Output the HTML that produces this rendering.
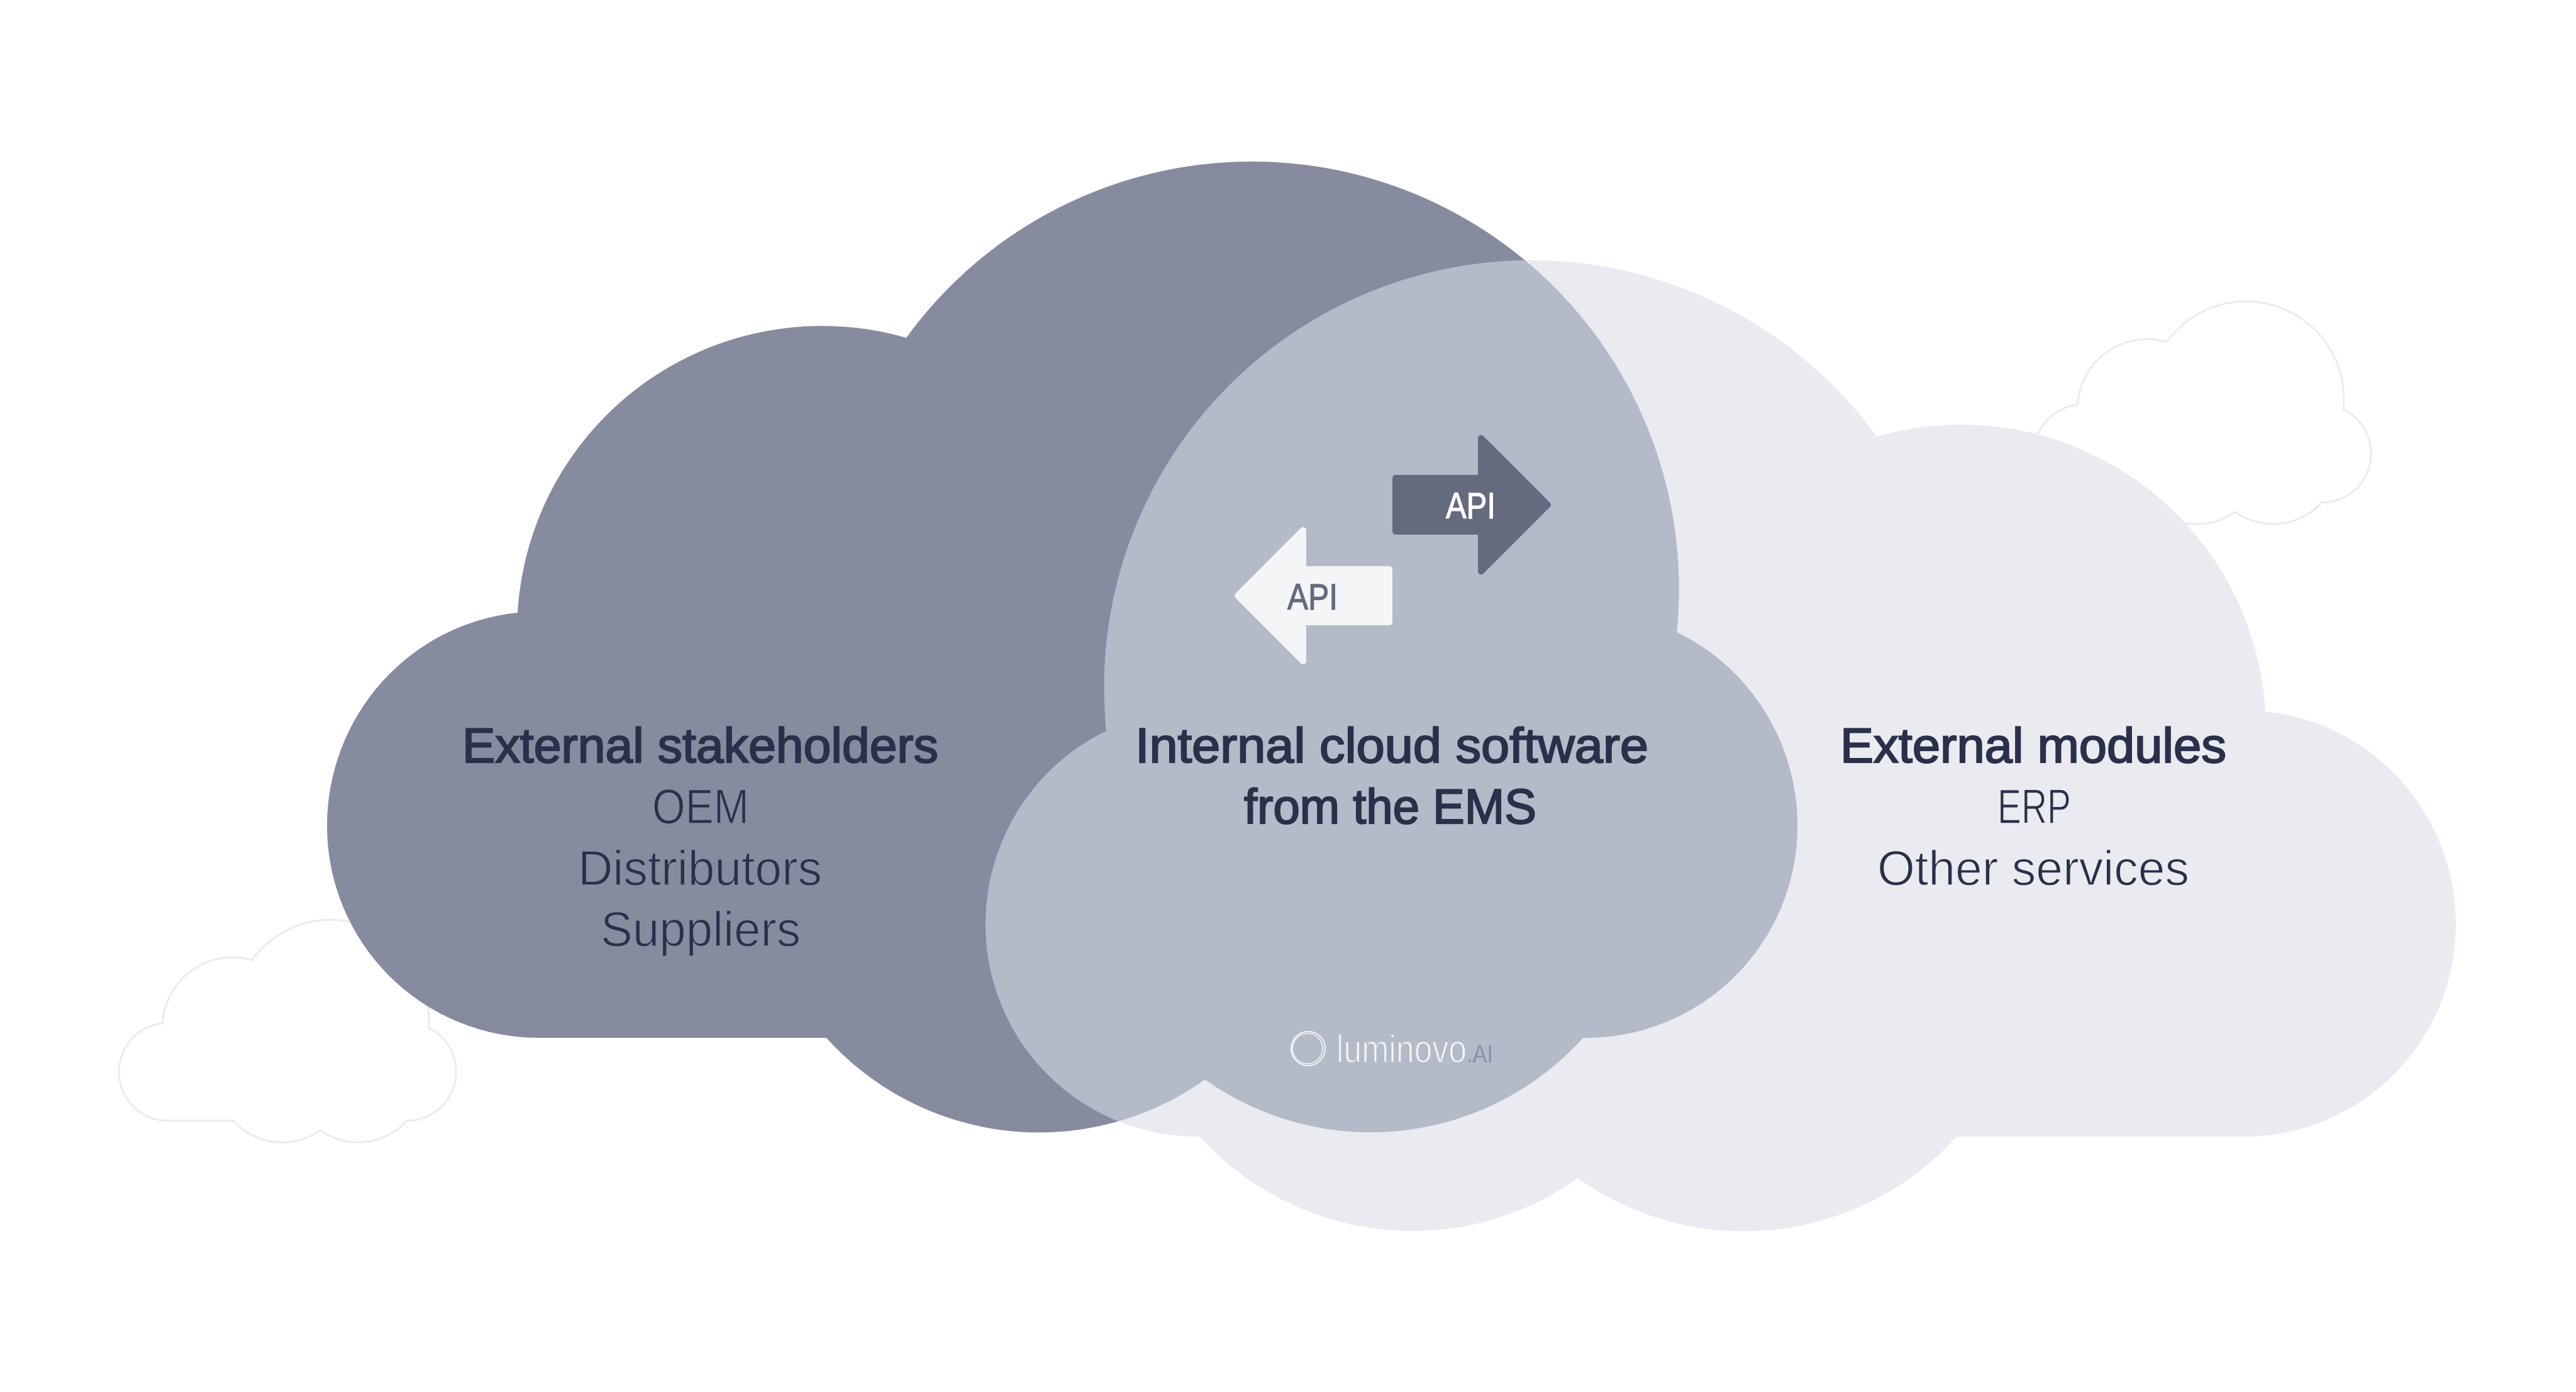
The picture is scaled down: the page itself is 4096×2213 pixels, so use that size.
<!DOCTYPE html>
<html>
<head>
<meta charset="utf-8">
<title>Cloud diagram</title>
<style>
html,body{margin:0;padding:0;background:#fff;width:4096px;height:2213px;overflow:hidden}
svg{display:block}
text{font-family:"Liberation Sans",Arial,sans-serif}
.h{font-size:78px;fill:#2A304A;stroke:#2A304A;stroke-width:2.2px}
.l{font-size:78px;fill:#2A304A;stroke-width:1.4px}
.api{font-size:58px;stroke-width:1.2px}
</style>
</head>
<body>
<svg xmlns="http://www.w3.org/2000/svg" width="4096" height="2213" viewBox="0 0 4096 2213">
  <defs>
    <path id="cloud" d="M857 1650 A337 337 0 0 1 520 1313 A337 340.7 0 0 1 823 974 A485 485 0 0 1 1441 537 A679 679 0 0 1 2666 1005 A337 341 0 0 1 2858 1313 A337 337 0 0 1 2517 1650 A455 455 0 0 1 1916 1716 A455 455 0 0 1 1314 1650 Z"/>
    <clipPath id="darkClip"><use href="#cloud"/></clipPath>
  </defs>
  <rect width="4096" height="2213" fill="#fff"/>

  <!-- small outlined clouds -->
  <g transform="translate(69.8 1403.3) scale(.2293)"><use href="#cloud" fill="#fff" stroke="#EAEBF0" stroke-width="13"/></g>
  <g transform="translate(3114.8 420.3) scale(.2293)"><use href="#cloud" fill="#fff" stroke="#EAEBF0" stroke-width="13"/></g>

  <!-- main clouds -->
  <g transform="translate(4425 157) scale(-1 1)"><use href="#cloud" fill="#EAEBF0"/></g>
  <use href="#cloud" fill="#878B9F"/>
  <g clip-path="url(#darkClip)">
    <g transform="translate(4425 157) scale(-1 1)"><use href="#cloud" fill="#B4BAC8"/></g>
  </g>

  <!-- arrows -->
  <path d="M2219 760 H2355 V696.5 L2461 802.5 L2355 908.5 V845 H2219 Z" fill="#656A7E" stroke="#656A7E" stroke-width="10" stroke-linejoin="round"/>
  <path d="M2209 905 H2072 V843 L1968 947 L2072 1051 V989 H2209 Z" fill="#F4F5F7" stroke="#F4F5F7" stroke-width="10" stroke-linejoin="round"/>
  <text class="api" x="2299" y="824" textLength="79" lengthAdjust="spacingAndGlyphs" fill="#FFFFFF" stroke="#FFFFFF">API</text>
  <text class="api" x="2047" y="969" textLength="80" lengthAdjust="spacingAndGlyphs" fill="#656A7E" stroke="#656A7E">API</text>

  <!-- left text -->
  <text class="h" x="735" y="1212" textLength="757" lengthAdjust="spacingAndGlyphs">External stakeholders</text>
  <text class="l" x="1037" y="1309" textLength="154" lengthAdjust="spacingAndGlyphs" stroke="#878B9F">OEM</text>
  <text class="l" x="919" y="1407" textLength="388" lengthAdjust="spacingAndGlyphs" stroke="#878B9F">Distributors</text>
  <text class="l" x="955" y="1504" textLength="318" lengthAdjust="spacingAndGlyphs" stroke="#878B9F">Suppliers</text>

  <!-- middle text -->
  <text class="h" x="1805" y="1212" textLength="816" lengthAdjust="spacingAndGlyphs">Internal cloud software</text>
  <text class="h" x="1978" y="1309" textLength="465" lengthAdjust="spacingAndGlyphs">from the EMS</text>

  <!-- right text -->
  <text class="h" x="2926" y="1212" textLength="614" lengthAdjust="spacingAndGlyphs">External modules</text>
  <text class="l" x="3176" y="1309" textLength="117" lengthAdjust="spacingAndGlyphs" stroke="#EAEBF0">ERP</text>
  <text class="l" x="2985" y="1407" textLength="496" lengthAdjust="spacingAndGlyphs" stroke="#EAEBF0">Other services</text>

  <!-- logo -->
  <circle cx="2080" cy="1667" r="27" fill="none" stroke="#F4F5F7" stroke-width="2"/>
  <circle cx="2079" cy="1667" r="24" fill="none" stroke="#F4F5F7" stroke-width="1.6"/>
  <text x="2125" y="1689" font-size="62" textLength="207" lengthAdjust="spacingAndGlyphs" fill="#F4F5F7" stroke="#B4BAC8" stroke-width="1.6">luminovo</text>
  <text x="2332" y="1689" font-size="40" textLength="42" lengthAdjust="spacingAndGlyphs" fill="#8A90A8">.AI</text>
</svg>
</body>
</html>
